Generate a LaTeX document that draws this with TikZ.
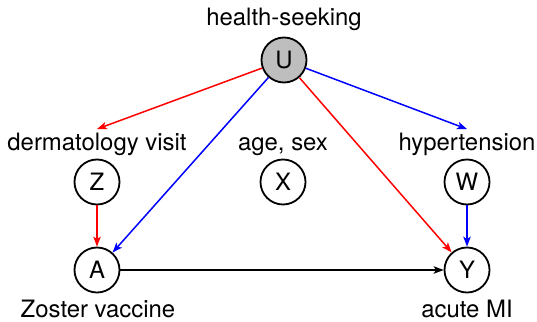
\documentclass[tikz,border=0pt]{standalone}
\usepackage{fontspec}
\setmainfont{TeX Gyre Heros}
\usepackage{tikz}
\usetikzlibrary{%
  arrows.meta%
}
\definecolor{ugray}{RGB}{190,190,190}

\begin{document}
\begin{tikzpicture}[x=1bp,y=1bp,
    var/.style={draw=black,circle,line width=1.8bp,minimum size=45bp,inner sep=0pt},
    lab/.style={anchor=base},
    edge/.style={line width=1.5bp,-{Stealth[length=10bp,width=7.5bp,inset=2.5bp]}},
    font=\fontsize{24}{28}\selectfont]
      \useasboundingbox (0,0) rectangle (537,321);
      \node [var,fill=ugray] (u) at (284,261) {U};
      \node [var] (z) at (97,139) {Z};
      \node [var] (x) at (283,139) {X};
      \node [var] (w) at (467,139) {W};
      \node [var] (a) at (97,51) {A};
      \node [var] (y) at (467,51) {Y};
      \node [lab] (ulab) at (284,296) {health-seeking};
      \node [lab] (zlab) at (97,171) {dermatology visit};
      \node [lab] (xlab) at (283,171) {age, sex};
      \node [lab] (wlab) at (467,171) {hypertension};
      \node [lab] (alab) at (98,4) {Zoster vaccine};
      \node [lab] (ylab) at (467,4) {acute MI};
      \draw [edge,red] (u) -- (zlab.north);
      \draw [edge,blue] (u) -- (wlab.north);
      \draw [edge,blue] (u) -- (a);
      \draw [edge,red] (u) -- (y);
      \draw [edge,red] (z) -- (a);
      \draw [edge,blue] (w) -- (y);
      \draw [edge] (a) -- (y);
    \end{tikzpicture}
\end{document}
